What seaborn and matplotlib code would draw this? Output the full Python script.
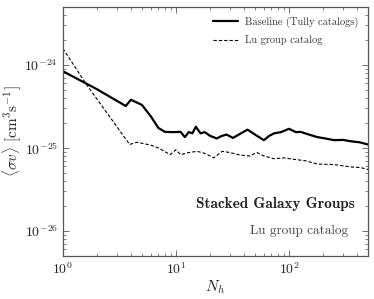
import numpy as np
import pandas as pd
import matplotlib
matplotlib.use("Agg")
import matplotlib.pyplot as plt
import seaborn as sns

# ------------------------------------------
# data (N_h, <sigma v>)
# ------------------------------------------
base_n = [1.0, 2.0, 3.6, 4.0, 5.0, 6.0, 7.0, 8.0, 9.5, 11.0, 12.0, 13.0, 14.0, 15.0,
          16.5, 18.0, 20.0, 23.0, 25.0, 28.0, 32.0, 36.0, 43.0, 50.0, 60.0, 67.0,
          74.0, 85.0, 100.0, 115.0, 127.0, 150.0, 178.0, 210.0, 250.0, 300.0,
          355.0, 420.0, 500.0]
base_sv = [8.4e-25, 5.1e-25, 3.2e-25, 3.8e-25, 3.3e-25, 2.4e-25, 1.74e-25, 1.56e-25,
           1.55e-25, 1.56e-25, 1.35e-25, 1.55e-25, 1.5e-25, 1.8e-25, 1.5e-25,
           1.55e-25, 1.4e-25, 1.3e-25, 1.38e-25, 1.45e-25, 1.32e-25, 1.45e-25,
           1.66e-25, 1.45e-25, 1.24e-25, 1.4e-25, 1.5e-25, 1.55e-25, 1.7e-25,
           1.55e-25, 1.56e-25, 1.45e-25, 1.35e-25, 1.3e-25, 1.24e-25, 1.25e-25,
           1.2e-25, 1.17e-25, 1.1e-25]

lu_n = [1.0, 1.62, 3.9, 4.5, 5.0, 6.0, 7.0, 8.9, 10.0, 11.0, 13.0, 15.4, 18.0, 21.6,
        25.7, 30.0, 37.0, 45.0, 52.0, 60.0, 74.0, 90.0, 110.0, 140.0, 178.0,
        250.0, 355.0, 430.0, 500.0]
lu_sv = [1.58e-24, 5.8e-25, 1.1e-25, 1.17e-25, 1.14e-25, 1.08e-25, 1.0e-25, 8.3e-26,
         9.5e-26, 8.3e-26, 8.8e-26, 9.1e-26, 8.6e-26, 7.6e-26, 9.1e-26, 8.8e-26,
         8.2e-26, 8.0e-26, 8.8e-26, 8.0e-26, 7.4e-26, 7.6e-26, 7.3e-26, 7.0e-26,
         6.4e-26, 6.3e-26, 5.9e-26, 5.8e-26, 5.5e-26]

x_ticks = [1, 10, 100]
y_ticks = [1e-26, 1e-25, 1e-24]

# ------------------------------------------
# style
# ------------------------------------------
sns.set_style("ticks")
plt.rcParams["font.family"] = ["cmr10", "DejaVu Serif"]
plt.rcParams["mathtext.fontset"] = "cm"
plt.rcParams["axes.unicode_minus"] = False
plt.rcParams["axes.formatter.use_mathtext"] = True
frame_col = "#555555"

fig = plt.figure(figsize=(3.74, 2.99), dpi=100)
ax = fig.add_axes([0.168, 0.144, 0.816, 0.833])

df_base = pd.DataFrame({"N": base_n, "sv": base_sv})
df_lu = pd.DataFrame({"N": lu_n, "sv": lu_sv})

sns.lineplot(data=df_base, x="N", y="sv", ax=ax, color="black", lw=1.6,
             label="Baseline (Tully catalogs)")
sns.lineplot(data=df_lu, x="N", y="sv", ax=ax, color="black", lw=0.8,
             linestyle=(0, (3, 1.8)), label="Lu group catalog")

ax.set_xscale("log")
ax.set_yscale("log")
ax.set_xticks(x_ticks)
ax.set_yticks(y_ticks)
ax.set_xlim(1, 500)
ax.set_ylim(5e-27, 5e-24)

ax.set_xlabel(r"$N_h$", fontsize=11, labelpad=1)
ax.set_ylabel(r"$\langle\sigma v\rangle\ [\mathrm{cm^3 s^{-1}}]$", fontsize=11, labelpad=1)

ax.tick_params(which="both", direction="in", top=True, right=True,
               color=frame_col, labelsize=10)
ax.tick_params(which="major", length=4, width=0.6)
ax.tick_params(which="minor", length=2, width=0.5)
for sp in ax.spines.values():
    sp.set_color(frame_col)
    sp.set_linewidth(0.9)

leg = ax.legend(loc="upper right", frameon=False, fontsize=7.5, handlelength=2.4,
                borderaxespad=0.5, labelspacing=0.75, handletextpad=0.7)
for t in leg.get_texts():
    t.set_color("#333333")

ax.text(0.955, 0.21, "Stacked Galaxy Groups", transform=ax.transAxes,
        ha="right", va="center", fontsize=11, family=["cmb10", "DejaVu Serif"],
        color="#222222")
ax.text(0.935, 0.10, "Lu group catalog", transform=ax.transAxes,
        ha="right", va="center", fontsize=9.5, color="#444444")

fig.savefig("out.png", dpi=100)
